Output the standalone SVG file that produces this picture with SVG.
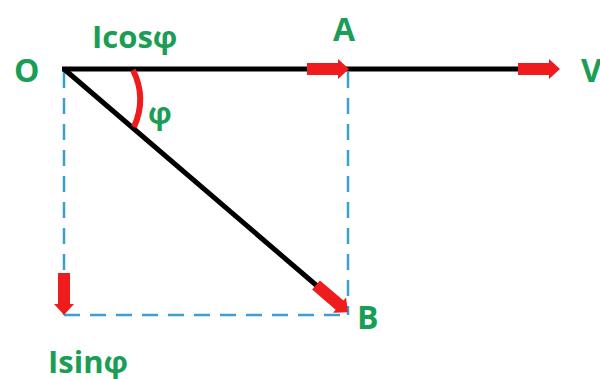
<svg xmlns="http://www.w3.org/2000/svg" width="600" height="379" viewBox="0 0 600 379">
<defs>
<style>
.lbl{font-family:"Open Sans","Noto Sans",sans-serif;font-weight:bold;fill:#1a9e55;}
.dash{stroke:#3b9fd1;stroke-width:2.5;stroke-dasharray:16 10;fill:none;}
.vec{stroke:#000;stroke-width:5;fill:none;}
.red{fill:#ee1c1c;}
</style>
<polygon id="arr" class="red" points="0,-6 31,-6 31,-10 42,0 31,10 31,6 0,6"/>
</defs>
<rect width="600" height="379" fill="#fff"/>
<g id="connectors">
<line class="dash" x1="64" y1="72" x2="64" y2="315"/>
<line class="dash" x1="348" y1="72" x2="348" y2="315"/>
<line class="dash" x1="64" y1="315" x2="348" y2="315"/>
<line class="vec" x1="62" y1="69" x2="520" y2="69"/>
<line class="vec" x1="64" y1="69" x2="330" y2="297"/>
<use href="#arr" transform="translate(307,69)"/>
<use href="#arr" transform="translate(518,69)"/>
<use href="#arr" transform="translate(316,285) rotate(40.5)"/>
<use href="#arr" transform="translate(64,273) rotate(90)"/>
<path d="M133,70 Q147,98 134,127" stroke="#ee1c1c" stroke-width="6" fill="none"/>
</g>
<g id="O"><text class="lbl" x="14" y="82" font-size="32">O</text></g>
<g id="A"><text class="lbl" x="333" y="41" font-size="32">A</text></g>
<g id="V"><text class="lbl" x="581" y="82" font-size="32">V</text></g>
<g id="B"><text class="lbl" x="357" y="329" font-size="32">B</text></g>
<g id="Icos"><text class="lbl" x="92" y="48" font-size="31">Icosφ</text></g>
<g id="phi"><text class="lbl" x="148" y="124" font-size="30">φ</text></g>
<g id="Isin"><text class="lbl" x="48" y="373" font-size="31">Isinφ</text></g>
</svg>
